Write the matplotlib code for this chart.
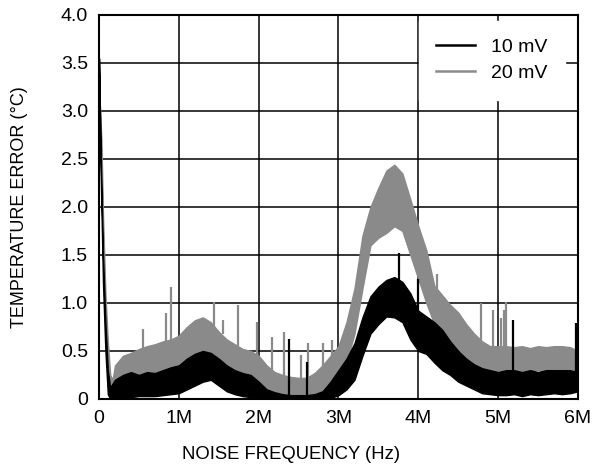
import matplotlib
matplotlib.use("Agg")
import matplotlib.pyplot as plt

plt.rcParams['font.family'] = ['Liberation Sans', 'DejaVu Sans']

# noise frequency in MHz, band of the noisy trace (low / high envelope) in degC
freq_10mv = [0.00, 0.02, 0.05, 0.08, 0.11, 0.14, 0.2, 0.3, 0.4, 0.5, 0.6, 0.7, 0.8, 0.9,
             1.0, 1.1, 1.2, 1.3, 1.4, 1.5, 1.6, 1.7, 1.8, 1.9, 2.0, 2.1, 2.2, 2.3, 2.4,
             2.5, 2.6, 2.7, 2.8, 2.9, 3.0, 3.1, 3.2, 3.3, 3.4, 3.5, 3.6, 3.7, 3.8, 3.9,
             4.0, 4.1, 4.2, 4.3, 4.4, 4.5, 4.6, 4.7, 4.8, 4.9, 5.0, 5.1, 5.2, 5.3, 5.4,
             5.5, 5.6, 5.7, 5.8, 5.9, 6.0]
lo_10mv = [3.55, 2.40, 1.20, 0.50, 0.05, 0.00, 0.00, 0.02, 0.02, 0.03, 0.03, 0.03, 0.04, 0.05,
           0.06, 0.10, 0.14, 0.18, 0.20, 0.14, 0.08, 0.05, 0.03, 0.02, 0.01, 0.00, 0.00, 0.00, 0.00,
           0.00, 0.00, 0.00, 0.00, 0.01, 0.04, 0.10, 0.20, 0.45, 0.68, 0.78, 0.86, 0.85, 0.80, 0.62,
           0.50, 0.47, 0.38, 0.30, 0.25, 0.18, 0.14, 0.10, 0.06, 0.05, 0.04, 0.04, 0.05, 0.03, 0.05,
           0.04, 0.05, 0.06, 0.05, 0.06, 0.08]
hi_10mv = [3.55, 2.60, 1.50, 0.80, 0.30, 0.12, 0.20, 0.25, 0.28, 0.25, 0.28, 0.27, 0.30, 0.33,
           0.35, 0.42, 0.47, 0.50, 0.48, 0.42, 0.35, 0.30, 0.27, 0.25, 0.18, 0.10, 0.07, 0.05, 0.04,
           0.04, 0.04, 0.05, 0.08, 0.18, 0.30, 0.42, 0.58, 0.85, 1.07, 1.17, 1.24, 1.27, 1.22, 1.10,
           0.92, 0.86, 0.80, 0.72, 0.60, 0.50, 0.42, 0.36, 0.32, 0.30, 0.28, 0.30, 0.30, 0.28, 0.30,
           0.28, 0.30, 0.30, 0.30, 0.30, 0.28]

freq_20mv = [0.01, 0.03, 0.05, 0.08, 0.11, 0.14, 0.17, 0.2, 0.3, 0.4, 0.5, 0.6, 0.7, 0.8, 0.9,
             1.0, 1.1, 1.2, 1.3, 1.4, 1.5, 1.6, 1.7, 1.8, 1.9, 2.0, 2.1, 2.2, 2.3, 2.4,
             2.5, 2.6, 2.7, 2.8, 2.9, 3.0, 3.1, 3.2, 3.3, 3.4, 3.5, 3.6, 3.7, 3.8, 3.9,
             4.0, 4.1, 4.2, 4.3, 4.4, 4.5, 4.6, 4.7, 4.8, 4.9, 5.0, 5.1, 5.2, 5.3, 5.4,
             5.5, 5.6, 5.7, 5.8, 5.9, 6.0]
lo_20mv = [3.06, 2.40, 1.60, 0.80, 0.30, 0.05, 0.00, 0.05, 0.15, 0.18, 0.20, 0.22, 0.25, 0.28, 0.30,
           0.32, 0.38, 0.42, 0.45, 0.40, 0.35, 0.30, 0.25, 0.20, 0.18, 0.10, 0.02, 0.00, 0.00, 0.00,
           0.00, 0.00, 0.02, 0.06, 0.12, 0.20, 0.38, 0.68, 1.15, 1.60, 1.68, 1.73, 1.80, 1.75, 1.50,
           1.25, 1.00, 0.78, 0.68, 0.58, 0.52, 0.42, 0.35, 0.30, 0.28, 0.27, 0.28, 0.30, 0.28, 0.30,
           0.30, 0.29, 0.30, 0.30, 0.31, 0.30]
hi_20mv = [3.06, 2.70, 1.90, 1.10, 0.60, 0.25, 0.20, 0.35, 0.45, 0.48, 0.52, 0.55, 0.57, 0.60, 0.62,
           0.66, 0.75, 0.82, 0.85, 0.80, 0.70, 0.62, 0.57, 0.52, 0.50, 0.45, 0.35, 0.28, 0.25, 0.23,
           0.22, 0.22, 0.27, 0.35, 0.45, 0.55, 0.80, 1.15, 1.70, 2.00, 2.20, 2.38, 2.44, 2.35, 2.08,
           1.80, 1.55, 1.18, 1.08, 0.98, 0.90, 0.78, 0.68, 0.60, 0.55, 0.55, 0.55, 0.54, 0.55, 0.53,
           0.55, 0.54, 0.55, 0.55, 0.54, 0.50]

# isolated spikes sticking out of the noise band (freq, base, tip)
spike_f_20mv = [0.55, 0.84, 0.90, 1.44, 1.55, 1.74, 1.98, 2.17, 2.32, 2.53, 2.62, 2.81, 2.92,
                4.23, 4.78, 4.93, 5.04, 5.07, 5.10]
spike_b_20mv = [0.50, 0.58, 0.60, 0.75, 0.68, 0.55, 0.45, 0.30, 0.24, 0.20, 0.20, 0.33, 0.42,
                1.15, 0.58, 0.54, 0.52, 0.52, 0.52]
spike_v_20mv = [0.73, 0.90, 1.17, 1.01, 0.82, 0.98, 0.80, 0.65, 0.70, 0.46, 0.58, 0.58, 0.61,
                1.30, 1.00, 0.93, 0.84, 0.93, 1.01]
spike_f_10mv = [2.38, 2.61, 3.76, 4.00, 5.19, 5.97]
spike_b_10mv = [0.02, 0.02, 1.20, 0.90, 0.28, 0.27]
spike_v_10mv = [0.63, 0.39, 1.52, 1.25, 0.82, 0.79]

x_ticks = [0, 1, 2, 3, 4, 5, 6]
x_labels = ["0", "1M", "2M", "3M", "4M", "5M", "6M"]
y_ticks = [0, 0.5, 1.0, 1.5, 2.0, 2.5, 3.0, 3.5, 4.0]
y_labels = ["0", "0.5", "1.0", "1.5", "2.0", "2.5", "3.0", "3.5", "4.0"]

gray = '#8a8a8a'

fig = plt.figure(figsize=(6.03, 4.70), dpi=100)
ax = fig.add_axes([0.1642, 0.1511, 0.7943, 0.8170])

ax.fill_between(freq_20mv, lo_20mv, hi_20mv, color=gray, lw=1.0, zorder=2)
ax.vlines(spike_f_20mv, spike_b_20mv, spike_v_20mv, color=gray, lw=1.6, zorder=2)
ax.fill_between(freq_10mv, lo_10mv, hi_10mv, color='black', lw=1.0, zorder=3)
ax.vlines(spike_f_10mv, spike_b_10mv, spike_v_10mv, color='black', lw=1.6, zorder=3)

# legend handles
ax.plot([], [], color='black', lw=1.8, label='10 mV')
ax.plot([], [], color=gray, lw=1.8, label='20 mV')

ax.set_xlim(0, 6)
ax.set_ylim(0, 4)
ax.set_xticks(x_ticks)
ax.set_xticklabels(x_labels)
ax.set_yticks(y_ticks)
ax.set_yticklabels(y_labels)
ax.tick_params(length=0, labelsize=14, pad=8)
ax.grid(True, color='black', lw=1.1)
ax.set_axisbelow(True)
for s in ax.spines.values():
    s.set_linewidth(1.5)

ax.set_xlabel("NOISE FREQUENCY (Hz)", fontsize=13.3)
ax.xaxis.set_label_coords(0.40, -0.122)
ax.set_ylabel("TEMPERATURE ERROR (°C)", fontsize=13.0)
ax.yaxis.set_label_coords(-0.148, 0.5)

leg = ax.legend(loc='upper right', bbox_to_anchor=(0.972, 0.985), fontsize=14,
                handlelength=2.0, handletextpad=0.8, frameon=True,
                fancybox=False, framealpha=1, edgecolor='white', borderpad=0.9,
                labelspacing=0.45, borderaxespad=0.0)
leg.set_zorder(5)

fig.savefig("out.png", dpi=100)
